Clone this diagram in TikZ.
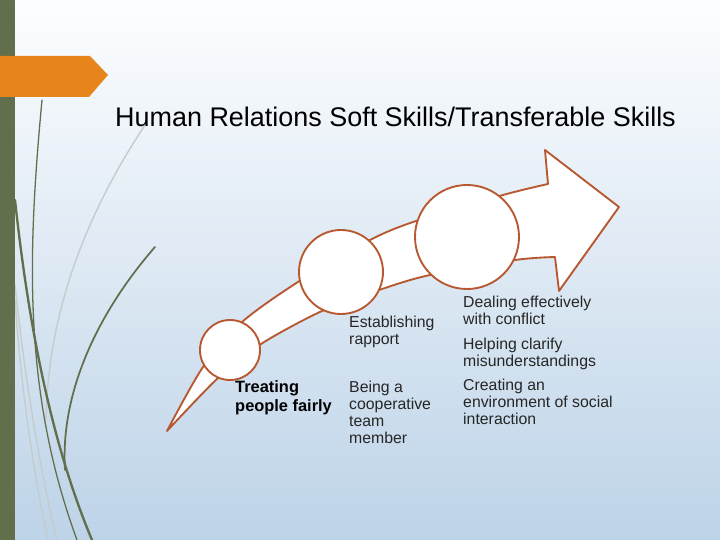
\documentclass[tikz,border=0pt]{standalone}
\usepackage{fontspec}
\setmainfont{Liberation Sans}
\usetikzlibrary{calc}

\definecolor{barGreen}{RGB}{98,111,77}
\definecolor{tabOrange}{RGB}{231,132,27}
\definecolor{arrowBrown}{RGB}{184,88,48}
\definecolor{bgTop}{RGB}{253,254,255}
\definecolor{bgBottom}{RGB}{189,211,232}
\definecolor{stemLight}{RGB}{196,204,206}
\definecolor{bodyText}{RGB}{38,38,38}

\begin{document}
\begin{tikzpicture}[x=0.03cm, y=-0.03cm,
    skill/.style={circle, draw=arrowBrown, fill=white, line width=1.6pt, inner sep=0pt},
    skilltext/.style={anchor=north west, inner sep=0pt, align=left, text=bodyText,
      font=\fontsize{13.5}{14.5}\selectfont},
    arrowline/.style={draw=arrowBrown, fill=white, line width=1.6pt, line join=round},
    stemdark/.style={draw=barGreen, line cap=round},
    stemlight/.style={draw=stemLight, line width=1.2pt, line cap=round}
  ]
    \shade[top color=bgTop, bottom color=bgBottom] (0,0) rectangle (720,540);
    \useasboundingbox (0,0) rectangle (720,540);

    \draw[stemlight] (147,122) .. controls (95,200) and (48,300) .. (46,420);
    \draw[stemlight] (15,285) .. controls (25,380) and (40,470) .. (57,540);
    \draw[stemlight] (15,300) .. controls (22,400) and (35,480) .. (48,540);
    \draw[stemdark, line width=1.1pt] (42,100) .. controls (28,250) and (22,390) .. (77,540);
    \draw[stemdark, line width=2pt] (15,200) .. controls (28,320) and (50,440) .. (92,540);
    \draw[stemdark, line width=1.5pt] (155,247) .. controls (100,310) and (60,390) .. (65,470);

    \fill[barGreen] (0,0) rectangle (15,540);
    \fill[tabOrange] (0,56) -- (90,56) -- (108,75) -- (89,97) -- (0,97) -- cycle;

    \node[
    font=\fontsize{23}{27}\selectfont,
    anchor=base
    ] (title) at (395.5,127) {Human Relations Soft Skills/Transferable Skills};

    \draw[arrowline] plot[smooth] coordinates {(167,431) (203,367) (242,322) (301,280)
        (370,240) (416,221) (503,195) (548,184)}
      -- (545,150) -- (619,207) -- (559,291) -- (555,257)
      -- plot[smooth] coordinates {(555,257) (515,260) (430,275) (382,289)
        (322,311) (261,344) (218,378) (167,431)} -- cycle;

    \node[skill, minimum size=1.8cm] (c1) at (230,350) {};
    \node[skill, minimum size=2.52cm] (c2) at (341,272) {};
    \node[skill, minimum size=3.12cm] (c3) at (467,237) {};

    \node[
    skilltext,
    font=\bfseries\fontsize{14}{16.5}\selectfont,
    text=black
    ] (fair) at (235,380.3) {Treating\\people fairly};
    \node[skilltext] (rapport) at (349,315.7) {Establishing\\rapport};
    \node[skilltext] (team) at (349,380.4) {Being a\\cooperative\\team\\member};
    \node[skilltext] (conflict) at (463,295.7) {Dealing effectively\\with conflict};
    \node[skilltext] (clarify) at (463,337.4) {Helping clarify\\misunderstandings};
    \node[skilltext] (social) at (463,378.4) {Creating an\\environment of social\\interaction};
  \end{tikzpicture}
\end{document}
